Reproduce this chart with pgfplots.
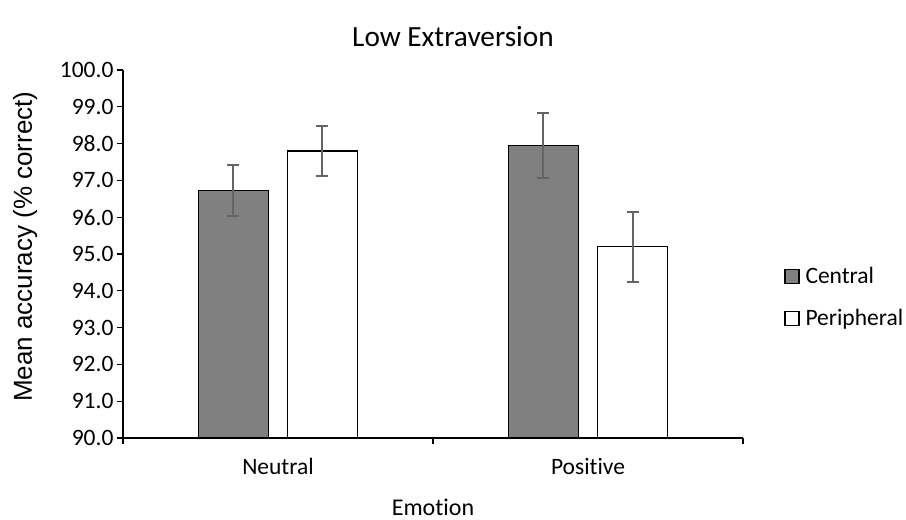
\documentclass[border=0pt]{standalone}
\usepackage{fontspec}
\setmainfont{Carlito}[Ligatures={NoCommon}]
\newfontfamily\arialfont{Liberation Sans}
\usepackage{pgfplots}
\pgfplotsset{compat=1.18}
\definecolor{barGray}{HTML}{808080}
\definecolor{errGray}{HTML}{646464}
\pgfplotsset{sqlegend/.style={legend image code/.code={\draw[##1, line width=1.5pt] (0pt,-7pt) rectangle (14pt,7pt); \path (18pt,0pt);}}}
\begin{document}
\begin{tikzpicture}
\begin{axis}[
  at={(0pt,0pt)}, anchor=south west,
  scale only axis, width=620pt, height=368pt,
  ybar=19pt, bar width=70pt,
  xmin=-0.5, xmax=1.5, ymin=90, ymax=100,
  xtick={0,1}, xticklabels={Neutral,Positive},
  minor xtick={-0.5,0.5,1.5},
  ytick={90,91,...,100},
  axis x line*=bottom, axis y line*=left,
  axis line style={line width=1.3pt, black, -},
  tick align=outside,
  major tick length=6pt, minor tick length=6pt,
  major x tick style={draw=none},
  minor x tick style={black, line width=1.3pt},
  y tick style={black, line width=1.3pt},
  yticklabel style={/pgf/number format/.cd, fixed, fixed zerofill, precision=1, assume math mode=true},
  tick label style={font=\fontsize{23.5}{28}\selectfont},
  xticklabel style={yshift=-11pt},
  xlabel={Emotion},
  xlabel style={at={(axis description cs:0.5,-0.188)}, anchor=center, font=\fontsize{24}{28}\selectfont},
  ylabel={Mean accuracy (\% correct)},
  ylabel style={at={(axis description cs:-0.158,0.52)}, anchor=center, font=\arialfont\fontsize{26}{30}\selectfont},
  legend style={at={(axis description cs:1.066,0.382)}, anchor=west, draw=none, fill=none, inner sep=0pt, row sep=20pt, font=\fontsize{23.5}{28}\selectfont},
  legend cell align=left,
]
\addplot[fill=barGray, draw=black, line width=1.3pt, sqlegend,
  error bars/.cd, y dir=both, y explicit,
  error bar style={line width=2pt, errGray},
  error mark options={rotate=90, mark size=6pt, line width=2pt, errGray}]
  coordinates {(0,96.73) +- (0,0.69) (1,97.94) +- (0,0.88)};
\addplot[fill=white, draw=black, line width=1.3pt, sqlegend,
  error bars/.cd, y dir=both, y explicit,
  error bar style={line width=2pt, errGray},
  error mark options={rotate=90, mark size=6pt, line width=2pt, errGray}]
  coordinates {(0,97.80) +- (0,0.68) (1,95.20) +- (0,0.95)};
\legend{Central,Peripheral}
\end{axis}
\node[anchor=base, font=\fontsize{29.3}{34}\selectfont] at (330pt,391pt) {Low Extraversion};
\pgfresetboundingbox
\path (-123pt,-82pt) rectangle (783pt,438pt);
\end{tikzpicture}
\end{document}
